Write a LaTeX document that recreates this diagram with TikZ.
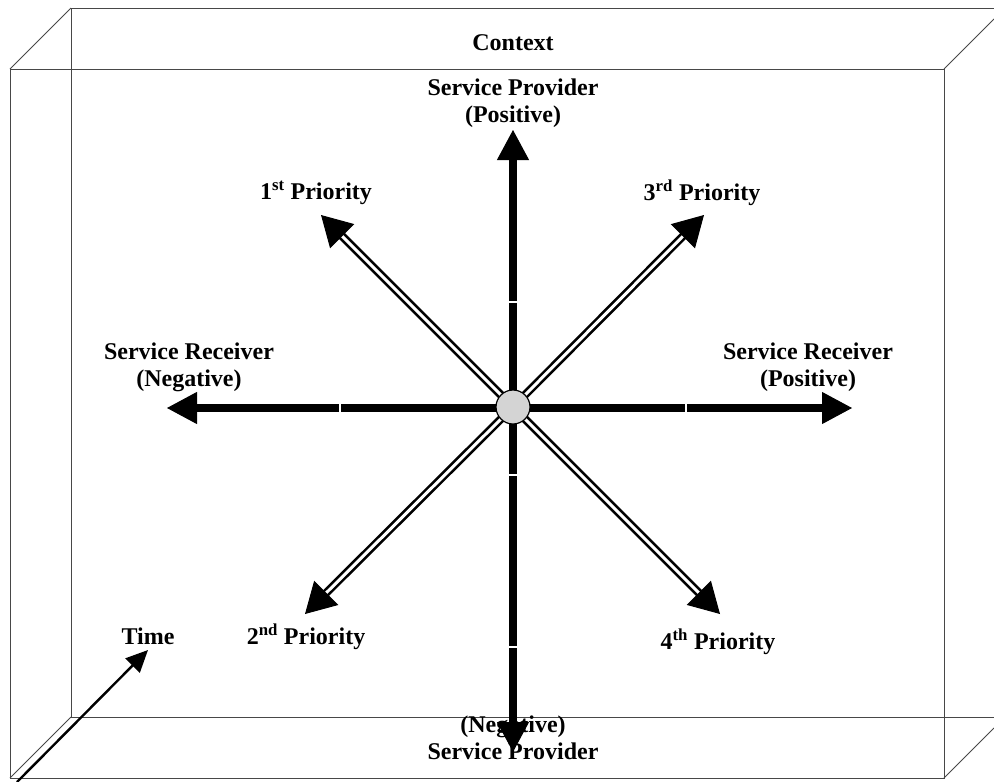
\documentclass[tikz,border=0pt]{standalone}
\usepackage{fontspec}
\setmainfont{Liberation Serif}
\usetikzlibrary{arrows.meta,calc}
\begin{document}
\begin{tikzpicture}[x=1pt,y=-1pt,
  boxline/.style={line width=1pt,draw=black!72},
  axis/.style={line width=8.5pt,draw=black},
  axtip/.style={-{Triangle[length=30pt,width=32pt]},line width=1pt},
  dbl/.style={double=white,double distance=3pt,line width=2.6pt,draw=black},
  dtip/.style={-{Triangle[length=30pt,width=34pt]},line width=1pt},
  gap/.style={draw=white,line width=1.6pt},
  lbl/.style={font=\bfseries\fontsize{24}{27}\selectfont,align=center,inner sep=0pt}]
\useasboundingbox (0,0) rectangle (994,782);
\clip (0,0) rectangle (994,782);
% box
\coordinate (F1) at (10,69); \coordinate (F2) at (944,69);
\coordinate (F3) at (944,778); \coordinate (F4) at (10,778);
\coordinate (B1) at (71,8); \coordinate (B2) at (994,8);
\coordinate (B4) at (71,717); \coordinate (B3) at (994,717);
\coordinate (D2) at (994,19); \coordinate (D3) at (994,728);
\draw[boxline] (B2) -- (B1) -- (B4) -- (B3);
\draw[boxline] (F1) rectangle (F3);
\draw[boxline] (F1) -- (B1);
\draw[boxline] (F2) -- (D2);
\draw[boxline] (F3) -- (D3);
\draw[boxline] (F4) -- (B4);
% center
\node[circle,minimum size=34pt,inner sep=0pt] (c) at (513,407) {};
\coordinate (N) at (513,130); \coordinate (S) at (513,752);
\coordinate (W) at (167,408); \coordinate (E) at (852,408);
\coordinate (P1) at (321,215); \coordinate (P3) at (704,215);
\coordinate (P2) at (305,614); \coordinate (P4) at (720,614);
% axes
\draw[axis,shorten >=26pt] (c.center) -- (N);
\draw[axis,shorten >=26pt] (c.center) -- (S);
\draw[axis,shorten >=26pt] (c.center |- W) -- (W);
\draw[axis,shorten >=26pt] (c.center |- E) -- (E);
\draw[axtip] ($(N)!28pt!(c.center)$) -- (N);
\draw[axtip] ($(S)!28pt!(c.center)$) -- (S);
\draw[axtip] ($(W)!28pt!(c.center |- W)$) -- (W);
\draw[axtip] ($(E)!28pt!(c.center |- E)$) -- (E);
% gaps in axes
\coordinate (g1) at (513,302); \coordinate (g2) at (513,475); \coordinate (g3) at (513,647);
\coordinate (g4) at (340,408); \coordinate (g5) at (686,408);
\draw[gap] ($(g1)+(-6,0)$) -- ($(g1)+(6,0)$);
\draw[gap] ($(g2)+(-6,0)$) -- ($(g2)+(6,0)$);
\draw[gap] ($(g3)+(-6,0)$) -- ($(g3)+(6,0)$);
\draw[gap] ($(g4)+(0,-6)$) -- ($(g4)+(0,6)$);
\draw[gap] ($(g5)+(0,-6)$) -- ($(g5)+(0,6)$);
% diagonals
\foreach \p in {P1,P2,P3,P4}{
  \draw[dbl,shorten >=26pt] (c.center) -- (\p);
  \draw[dtip] ($(\p)!28pt!(c.center)$) -- (\p);
}
\node[circle,draw=black,line width=1.2pt,fill=black!17,minimum size=34pt,inner sep=0pt] at (c.center) {};
% time arrow
\coordinate (t0) at (17,782); \coordinate (t1) at (148,650);
\draw[line width=2.4pt,-{Triangle[length=22pt,width=20pt]}] (t0) -- (t1);
% labels
\node[lbl] (ctx) at (513,43) {Context};
\node[lbl] (np) at (513,103) {Service Provider\\(Positive)};
\node[lbl] (sp) at (513,738) {(Negative)\\Service Provider};
\node[lbl] (wn) at (189,367) {Service Receiver\\(Negative)};
\node[lbl] (ep) at (808,367) {Service Receiver\\(Positive)};
\node[lbl] (pr1) at (316,193) {1\textsuperscript{st} Priority};
\node[lbl] (pr3) at (702,193) {3\textsuperscript{rd} Priority};
\node[lbl] (pr2) at (306,637) {2\textsuperscript{nd} Priority};
\node[lbl] (pr4) at (718,642) {4\textsuperscript{th} Priority};
\node[lbl] (tm) at (148,636) {Time};
\end{tikzpicture}
\end{document}
